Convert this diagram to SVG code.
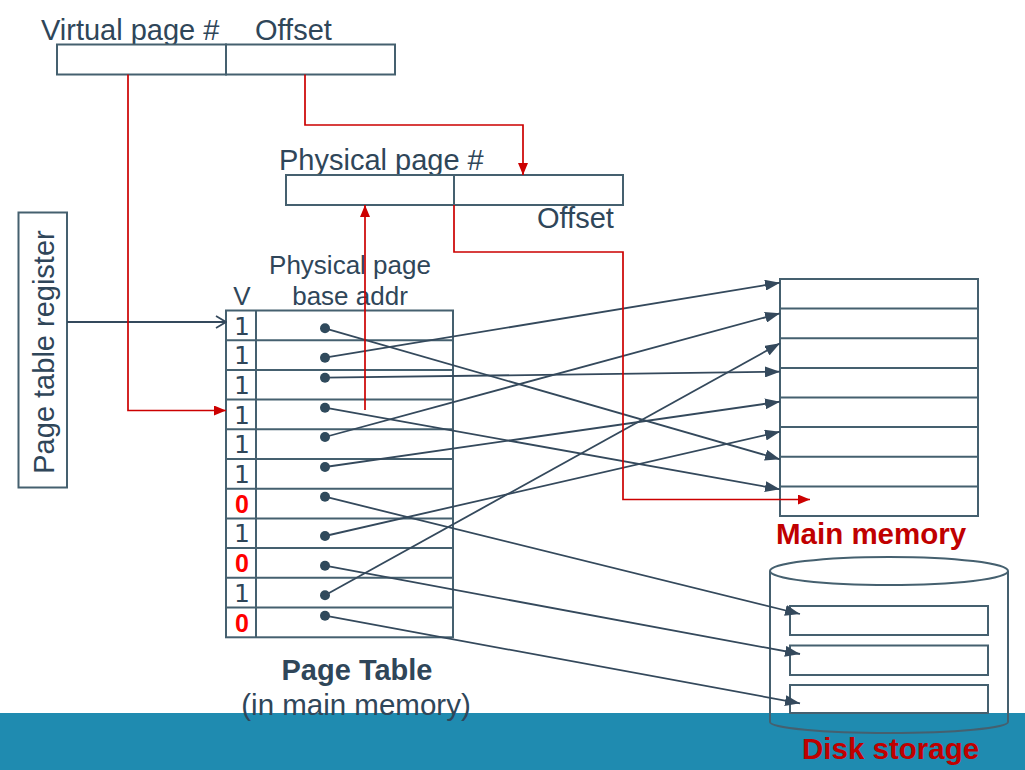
<svg xmlns="http://www.w3.org/2000/svg" width="1025" height="770" viewBox="0 0 1025 770">
<defs>
<style>
.t{font-family:"Liberation Sans",Arial,sans-serif;fill:#2f4659}
.b{font-family:"Liberation Sans",Arial,sans-serif;font-weight:bold}
.box{fill:#fff;stroke:#45606f;stroke-width:2}
.ln{fill:none;stroke:#34495c;stroke-width:1.8}
.red{fill:none;stroke:#cc0000;stroke-width:1.7}
.dot{fill:#2f4a5c}
.v{font-family:"DejaVu Sans",sans-serif;font-size:25px;fill:#2f4659;text-anchor:middle}
.z{font-family:"Liberation Sans",Arial,sans-serif;font-weight:bold;font-size:25px;fill:#ff0000;text-anchor:middle}
</style>
<marker id="ah" viewBox="0 0 15 11" refX="15" refY="5.5" markerWidth="15" markerHeight="11" markerUnits="userSpaceOnUse" orient="auto"><path d="M0,0 L15,5.5 L0,11 z" fill="#34495c"/></marker>
<marker id="rh" viewBox="0 0 12 10" refX="12" refY="5" markerWidth="12" markerHeight="10" markerUnits="userSpaceOnUse" orient="auto"><path d="M0,0 L12,5 L0,10 z" fill="#cc0000"/></marker>
<marker id="oh" viewBox="0 0 12 14" refX="11" refY="7" markerWidth="12" markerHeight="14" markerUnits="userSpaceOnUse" orient="auto"><path d="M1,1 L11,7 L1,13" fill="none" stroke="#34495c" stroke-width="1.7"/></marker>
</defs>
<rect width="1025" height="770" fill="#fff"/>
<rect id="band" x="0" y="713" width="1025" height="57" fill="#1f8bb0"/>

<g id="virtual-address">
<text class="t" x="41" y="40" font-size="29">Virtual page #</text>
<text class="t" x="255" y="40" font-size="29">Offset</text>
<rect class="box" x="57" y="44.5" width="169" height="30"/>
<rect class="box" x="226" y="44.5" width="169" height="30"/>
</g>

<g id="physical-address">
<text class="t" x="279" y="170" font-size="29">Physical page #</text>
<rect class="box" x="286" y="175" width="168" height="30"/>
<rect class="box" x="454" y="175" width="169" height="30"/>
<text class="t" x="537" y="228" font-size="29">Offset</text>
</g>

<g id="page-table-register">
<rect class="box" x="18.5" y="212.5" width="48.5" height="275"/>
<text class="t" x="0" y="0" font-size="29" text-anchor="middle" transform="translate(54,352) rotate(-90)">Page table register</text>
</g>

<g id="page-table">
<text class="t" x="350" y="274" font-size="26" text-anchor="middle">Physical page</text>
<text class="t" x="350" y="305" font-size="26" text-anchor="middle">base addr</text>
<text class="t" x="242" y="305" font-size="26" text-anchor="middle">V</text>
<rect class="box" x="226" y="310.5" width="227" height="326.8" fill="none"/>
<g stroke="#45606f" stroke-width="2">
<line x1="256" y1="310.5" x2="256" y2="637.3"/>
<line x1="226" y1="340.2" x2="453" y2="340.2"/>
<line x1="226" y1="369.9" x2="453" y2="369.9"/>
<line x1="226" y1="399.6" x2="453" y2="399.6"/>
<line x1="226" y1="429.3" x2="453" y2="429.3"/>
<line x1="226" y1="459" x2="453" y2="459"/>
<line x1="226" y1="488.7" x2="453" y2="488.7"/>
<line x1="226" y1="518.4" x2="453" y2="518.4"/>
<line x1="226" y1="548.1" x2="453" y2="548.1"/>
<line x1="226" y1="577.8" x2="453" y2="577.8"/>
<line x1="226" y1="607.5" x2="453" y2="607.5"/>
</g>
<text class="v" x="242" y="334.5">1</text>
<text class="v" x="242" y="364">1</text>
<text class="v" x="242" y="393.5">1</text>
<text class="v" x="242" y="423.5">1</text>
<text class="v" x="242" y="453">1</text>
<text class="v" x="242" y="482.5">1</text>
<text class="z" x="242" y="512.5">0</text>
<text class="v" x="242" y="542">1</text>
<text class="z" x="242" y="572">0</text>
<text class="v" x="242" y="601.5">1</text>
<text class="z" x="242" y="631.5">0</text>
<text class="b" x="357" y="680" font-size="29" fill="#2f4659" text-anchor="middle">Page Table</text>
<text class="t" x="356" y="715" font-size="29.5" text-anchor="middle">(in main memory)</text>
</g>

<g id="main-memory">
<rect class="box" x="780" y="279" width="198" height="237"/>
<g stroke="#45606f" stroke-width="2">
<line x1="780" y1="308.6" x2="978" y2="308.6"/>
<line x1="780" y1="338.3" x2="978" y2="338.3"/>
<line x1="780" y1="367.9" x2="978" y2="367.9"/>
<line x1="780" y1="397.5" x2="978" y2="397.5"/>
<line x1="780" y1="427.1" x2="978" y2="427.1"/>
<line x1="780" y1="456.8" x2="978" y2="456.8"/>
<line x1="780" y1="486.4" x2="978" y2="486.4"/>
</g>
<text class="b" x="776" y="544" font-size="29.5" fill="#c00000">Main memory</text>
</g>

<g id="disk-storage">
<path d="M770,571 L770,722 A119,11 0 0 0 1008,722 L1008,571" fill="none" stroke="#45606f" stroke-width="2"/>
<ellipse cx="889" cy="571" rx="119" ry="14" fill="#fff" stroke="#45606f" stroke-width="2"/>
<rect class="box" x="790" y="606" width="198" height="29"/>
<rect class="box" x="790" y="645.5" width="198" height="29.5"/>
<rect class="box" x="790" y="685" width="198" height="28"/>
<text class="b" x="802" y="759" font-size="29.5" fill="#c00000">Disk storage</text>
</g>

<g id="connectors">
<g class="dot">
<circle cx="325" cy="328.3" r="5"/>
<circle cx="325" cy="357.7" r="5"/>
<circle cx="325" cy="377.7" r="5"/>
<circle cx="325" cy="407.7" r="5"/>
<circle cx="325" cy="437" r="5"/>
<circle cx="325" cy="467" r="5"/>
<circle cx="325" cy="496.7" r="5"/>
<circle cx="325" cy="536" r="5"/>
<circle cx="325" cy="565.7" r="5"/>
<circle cx="325" cy="595.3" r="5"/>
<circle cx="325" cy="615.7" r="5"/>
</g>
<line class="ln" x1="325" y1="328.3" x2="780" y2="459.3" marker-end="url(#ah)"/>
<line class="ln" x1="325" y1="357.7" x2="780" y2="282.7" marker-end="url(#ah)"/>
<line class="ln" x1="325" y1="377.7" x2="780" y2="371.7" marker-end="url(#ah)"/>
<line class="ln" x1="325" y1="407.7" x2="780" y2="489.3" marker-end="url(#ah)"/>
<line class="ln" x1="325" y1="437" x2="780" y2="313.3" marker-end="url(#ah)"/>
<line class="ln" x1="325" y1="467" x2="780" y2="401.7" marker-end="url(#ah)"/>
<line class="ln" x1="325" y1="496.7" x2="800" y2="614" marker-end="url(#ah)"/>
<line class="ln" x1="325" y1="536" x2="780" y2="431.7" marker-end="url(#ah)"/>
<line class="ln" x1="325" y1="565.7" x2="800" y2="654" marker-end="url(#ah)"/>
<line class="ln" x1="325" y1="595.3" x2="780" y2="343.3" marker-end="url(#ah)"/>
<line class="ln" x1="325" y1="615.7" x2="800" y2="703.3" marker-end="url(#ah)"/>
<line class="ln" x1="67" y1="322" x2="226" y2="322" marker-end="url(#oh)"/>
<path class="red" d="M128,74.5 L128,410.5 L226,410.5" marker-end="url(#rh)"/>
<path class="red" d="M305,74.5 L305,125 L523,125 L523,175" marker-end="url(#rh)"/>
<line class="red" x1="365" y1="410" x2="365" y2="205" marker-end="url(#rh)"/>
<path class="red" d="M454,205 L454,252 L623,252 L623,499.5 L810,499.5" marker-end="url(#rh)"/>
</g>
</svg>
